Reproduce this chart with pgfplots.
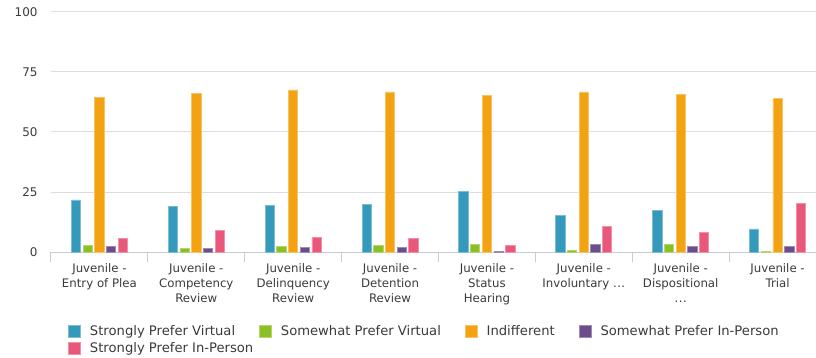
\documentclass[border=0pt]{standalone}
\usepackage{pgfplots}
\pgfplotsset{compat=1.18}
\usepackage{fontspec}
\setmainfont{DejaVu Sans}
\definecolor{cSV}{HTML}{3599BC}
\definecolor{cWV}{HTML}{8AC023}
\definecolor{cIN}{HTML}{F3A312}
\definecolor{cWP}{HTML}{6A4D8A}
\definecolor{cSP}{HTML}{E9577B}
\definecolor{gridc}{HTML}{DDDDDD}
\definecolor{axc}{HTML}{C5CCD6}
\definecolor{txt}{HTML}{3A3A3A}
\newcommand{\dd}{.\kern0.5pt.\kern0.5pt.}
\begin{document}
\begin{tikzpicture}
\begin{axis}[
  at={(0,0)}, anchor=south west,
  scale only axis, width=775bp, height=240bp,
  xmin=-0.5, xmax=7.5, ymin=0, ymax=100,
  ybar=2.4bp, bar width=9.3bp,
  axis x line*=bottom, axis y line*=left,
  x axis line style={draw=axc, line width=1bp, -},
  y axis line style={draw=none},
  ytick={0,25,50,75,100},
  ymajorgrids, grid style={draw=gridc, line width=1bp},
  major tick length=0pt,
  xtick={0,1,2,3,4,5,6,7},
  xticklabels={{Juvenile -\\Entry of Plea},{Juvenile -\\Competency\\Review},{Juvenile -\\Delinquency\\Review},{Juvenile -\\Detention\\Review},{Juvenile -\\Status\\Hearing},{Juvenile -\\Involuntary \dd},{Juvenile -\\Dispositional\\\dd},{Juvenile -\\Trial}},
  xticklabel style={align=center, font=\fontsize{11.8}{15}\selectfont, text=txt, yshift=-8.5bp},
  yticklabel style={font=\fontsize{12}{13}\selectfont, text=txt, xshift=-10bp},
  /pgf/number format/assume math mode=true,
  extra x ticks={-0.5,0.5,1.5,2.5,3.5,4.5,5.5,6.5,7.5},
  extra x tick labels={},
  extra x tick style={major tick length=10bp, tick align=outside, tick style={draw=axc, line width=1bp}, grid=none},
  legend columns=4,
  legend cell align=left,
  legend style={at={(axis description cs:0,0)}, anchor=north west, xshift=17bp, yshift=-71bp,
    draw=none, fill=none, inner sep=0pt, font=\fontsize{13.2}{14}\selectfont, text=txt,
    /tikz/every odd column/.append style={column sep=7bp},
    /tikz/every even column/.append style={column sep=22bp},
    row sep=1.5bp},
  legend image code/.code={\draw[#1, line width=0.8bp] (0bp,-6bp) rectangle (12bp,6bp);},
]
\addplot[fill=cSV, draw=cSV!65!white, line width=0.8bp] coordinates {(0,21.7) (1,18.9) (2,19.3) (3,19.8) (4,25.3) (5,15.4) (6,17.2) (7,9.6)};
\addplot[fill=cWV, draw=cWV!65!white, line width=0.8bp] coordinates {(0,2.9) (1,1.5) (2,2.5) (3,2.9) (4,3.3) (5,0.8) (6,3.3) (7,0.4)};
\addplot[fill=cIN, draw=cIN!65!white, line width=0.8bp] coordinates {(0,64.3) (1,66.1) (2,67.5) (3,66.7) (4,65.3) (5,66.7) (6,65.7) (7,63.8)};
\addplot[fill=cWP, draw=cWP!65!white, line width=0.8bp] coordinates {(0,2.3) (1,1.5) (2,1.9) (3,1.9) (4,0.4) (5,3.3) (6,2.5) (7,2.5)};
\addplot[fill=cSP, draw=cSP!65!white, line width=0.8bp] coordinates {(0,5.5) (1,8.9) (2,6.0) (3,5.5) (4,2.9) (5,10.8) (6,8.3) (7,20.4)};
\legend{Strongly Prefer Virtual, Somewhat Prefer Virtual, Indifferent, Somewhat Prefer In-Person, \makebox[0pt][l]{Strongly Prefer In-Person}}
\end{axis}
\pgfresetboundingbox
\path (-51bp,-106bp) rectangle (765bp,252bp);
\end{tikzpicture}
\end{document}
